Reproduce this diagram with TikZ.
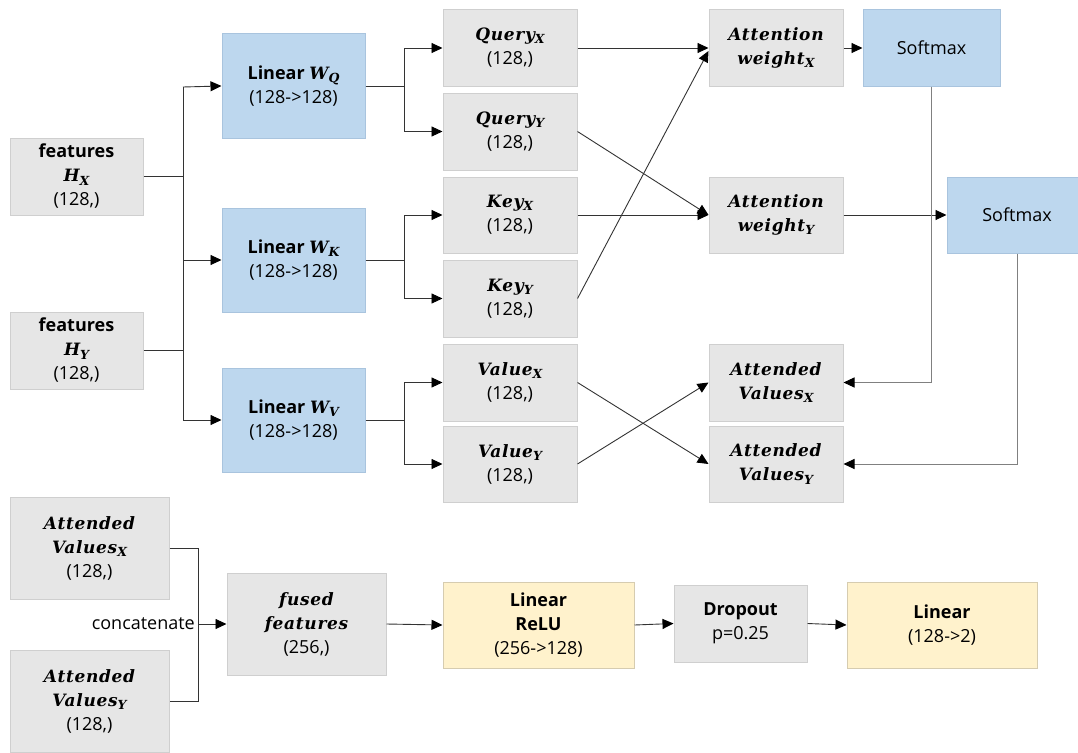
\documentclass[tikz,border=0pt]{standalone}
\usepackage{fontspec}
\setmainfont{Open Sans}
\newfontfamily\bifam{DejaVu Serif}[LetterSpace=4]
\newcommand\bi[1]{{\bifam\bfseries\itshape\fontsize{17}{24}\selectfont #1}}
\newcommand\bs[2]{{\bifam\bfseries\itshape\fontsize{17}{24}\selectfont #1\raisebox{-0.35ex}{\fontsize{12.5}{12.5}\selectfont #2}}}
\usetikzlibrary{arrows.meta}
\definecolor{gfill}{HTML}{E6E6E6}
\definecolor{gline}{HTML}{CFCFCF}
\definecolor{bfill}{HTML}{BDD7EE}
\definecolor{bline}{HTML}{A9C4DE}
\definecolor{yfill}{HTML}{FFF2CC}
\definecolor{yline}{HTML}{D6CCB0}
\definecolor{lc}{HTML}{333333}
\tikzset{
  box/.style={draw, line width=1pt, inner sep=0pt, align=center, font=\fontsize{18}{24}\selectfont},
  gb/.style={box, fill=gfill, draw=gline},
  bb/.style={box, fill=bfill, draw=bline},
  yb/.style={box, fill=yfill, draw=yline},
  sz/.style 2 args={minimum width=#1pt, minimum height=#2pt},
  arr/.style={draw=lc, line width=0.9pt, -{Triangle[length=11pt,width=10pt,color=black]}},
  ln/.style={draw=lc, line width=0.9pt},
  gln/.style={draw=black!50, line width=1pt, -{Triangle[length=11pt,width=10pt,color=black]}},
}
\begin{document}
\begin{tikzpicture}[x=1pt,y=-1pt]
\useasboundingbox (0,0) rectangle (1078,752);
\clip (0,0) rectangle (1078,752);
% inputs
\node[gb, sz={133}{77}] (hx) at (76.5,176.5) {\textbf{features}\\\bs{H}{X}\\(128,)};
\node[gb, sz={133}{77}] (hy) at (76.5,350.5) {\textbf{features}\\\bs{H}{Y}\\(128,)};
% linear projections
\node[bb, sz={143}{104}] (wq) at (293.5,86) {\textbf{Linear} \bs{W}{Q}\\(128->128)};
\node[bb, sz={143}{104}] (wk) at (293.5,260) {\textbf{Linear} \bs{W}{K}\\(128->128)};
\node[bb, sz={143}{104}] (wv) at (293.5,420) {\textbf{Linear} \bs{W}{V}\\(128->128)};
% q k v
\node[gb, sz={134}{76}] (qx) at (510,48) {\bs{Query}{X}\\(128,)};
\node[gb, sz={134}{77}] (qy) at (510,131.5) {\bs{Query}{Y}\\(128,)};
\node[gb, sz={134}{76}] (kx) at (510,215) {\bs{Key}{X}\\(128,)};
\node[gb, sz={134}{77}] (ky) at (510,298.5) {\bs{Key}{Y}\\(128,)};
\node[gb, sz={134}{77}] (vx) at (510,382.5) {\bs{Value}{X}\\(128,)};
\node[gb, sz={134}{76}] (vy) at (510,464) {\bs{Value}{Y}\\(128,)};
% attention
\node[gb, sz={134}{76}] (awx) at (776,48) {\bi{Attention}\\\bs{weight}{X}};
\node[gb, sz={134}{76}] (awy) at (776,215) {\bi{Attention}\\\bs{weight}{Y}};
\node[bb, sz={137}{76}] (sm1) at (931.5,48) {Softmax};
\node[bb, sz={140}{76}] (sm2) at (1017,215) {Softmax};
\node[gb, sz={134}{77}] (avx) at (776,382.5) {\bi{Attended}\\\bs{Values}{X}};
\node[gb, sz={134}{76}] (avy) at (776,464) {\bi{Attended}\\\bs{Values}{Y}};
% bottom
\node[gb, sz={159}{102}] (bx) at (89.5,548) {\bi{Attended}\\\bs{Values}{X}\\(128,)};
\node[gb, sz={159}{102}] (by) at (89.5,701) {\bi{Attended}\\\bs{Values}{Y}\\(128,)};
\node[gb, sz={159}{102}] (ff) at (306.5,624) {\bi{fused}\\\bi{features}\\(256,)};
\node[yb, sz={191}{86}] (lr) at (538.5,625) {\textbf{Linear}\\\textbf{ReLU}\\(256->128)};
\node[gb, sz={133}{77}] (dp) at (740.5,623.5) {\textbf{Dropout}\\p=0.25};
\node[yb, sz={190}{86}] (lf) at (942,625) {\textbf{Linear}\\(128->2)};
% input trunk
\coordinate (t1) at (183,87);
\coordinate (t2) at (183,420);
\draw[ln] (t1) -- (t2);
\draw[ln] (hx.east) -- (hx.east -| t1);
\draw[ln] (hy.east) -- (hy.east -| t1);
\draw[arr] (t1) -- (wq.west);
\draw[arr] (wk.west -| t1) -- (wk.west);
\draw[arr] (t2) -- (wv.west);
% projection branches
\coordinate (bq) at (404,86);
\coordinate (bk) at (404,260);
\coordinate (bv) at (404,420);
\draw[ln] (wq.east) -- (bq);
\draw[arr] (bq) |- (qx.west);
\draw[arr] (bq) |- (qy.west);
\draw[ln] (wk.east) -- (bk);
\draw[arr] (bk) |- (kx.west);
\draw[arr] (bk) |- (ky.west);
\draw[ln] (wv.east) -- (bv);
\draw[arr] (bv) |- (vx.west);
\draw[arr] (bv) |- (vy.west);
% attention connections
\draw[arr] (qx.east) -- (awx.west);
\draw[arr] (qy.east) -- (awy.west);
\draw[arr] (kx.east) -- (awy.west);
\draw[arr] (ky.east) -- ([yshift=-3pt]awx.west);
\draw[arr] (awx.east) -- (sm1.west);
\draw[arr] (awy.east) -- (sm2.west);
\draw[gln] (sm1.south) |- (avx.east);
\draw[gln] (sm2.south) |- (avy.east);
\draw[arr] (vx.east) -- (avy.west);
\draw[arr] (vy.east) -- (avx.west);
% fusion
\coordinate (c1) at (198,548);
\coordinate (c2) at (198,701);
\draw[ln] (bx.east) -- (c1) -- (c2) -- (by.east);
\coordinate (c3) at (198,624);
\draw[arr] (c3) -- (ff.west);
\node[anchor=east, inner sep=0pt, font=\fontsize{18}{24}\selectfont] (cat) at (195,624) {concatenate};
\draw[arr] (ff.east) -- (lr.west);
\draw[arr] (lr.east) -- (dp.west);
\draw[arr] (dp.east) -- (lf.west);
\end{tikzpicture}
\end{document}
